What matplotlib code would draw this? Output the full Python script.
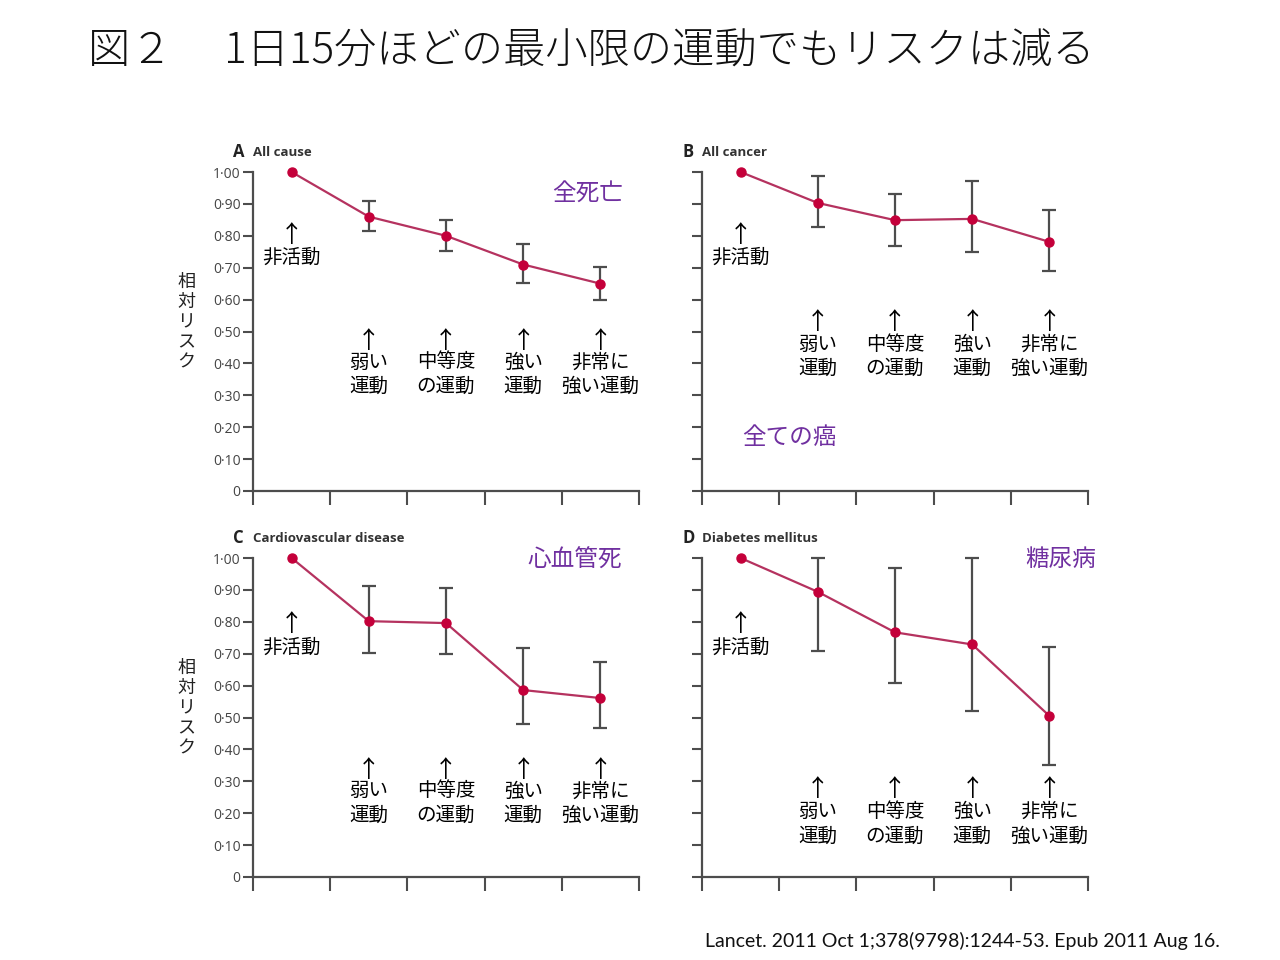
import matplotlib
matplotlib.use("Agg")
from matplotlib import pyplot as plt
import numpy as np

plt.rcParams['font.family'] = ['Noto Sans CJK JP', 'DejaVu Sans']

# data (relative risk, 95% CI)
levels = ["非活動", "弱い\n運動", "中等度\nの運動", "強い\n運動", "非常に\n強い運動"]
ytick_values = [0, 0.1, 0.2, 0.3, 0.4, 0.5, 0.6, 0.7, 0.8, 0.9, 1.0]
ytick_labels = ["0", "0·10", "0·20", "0·30", "0·40", "0·50", "0·60", "0·70", "0·80", "0·90", "1·00"]

all_cause = [1.00, 0.86, 0.80, 0.71, 0.65]
all_cause_lo = [1.00, 0.815, 0.752, 0.652, 0.599]
all_cause_hi = [1.00, 0.909, 0.850, 0.774, 0.702]

all_cancer = [1.00, 0.903, 0.849, 0.853, 0.781]
all_cancer_lo = [1.00, 0.828, 0.768, 0.749, 0.690]
all_cancer_hi = [1.00, 0.987, 0.931, 0.972, 0.881]

cvd = [1.00, 0.802, 0.796, 0.586, 0.561]
cvd_lo = [1.00, 0.702, 0.699, 0.480, 0.467]
cvd_hi = [1.00, 0.912, 0.906, 0.718, 0.674]

diabetes = [1.00, 0.894, 0.767, 0.729, 0.505]
diabetes_lo = [1.00, 0.708, 0.607, 0.521, 0.351]
diabetes_hi = [1.00, 1.00, 0.968, 1.00, 0.721]

line_color = '#b5325f'
marker_color = '#c4003a'
axis_color = '#4d4d4d'
purple = '#7030a0'

fig = plt.figure(figsize=(12.8, 9.6), dpi=100)

panels = [
    # letter, english title, jp label, values, lo, hi, rect, jp label pos,
    # (arrow y, label y) for first level, (arrow y, label y) for the rest
    ("A", "All cause", "全死亡", all_cause, all_cause_lo, all_cause_hi,
     [253/1280, 1 - 491/960, 386/1280, 319/960], (4.33, 0.934), (0.80, 0.733), (0.47, 0.3665), True),
    ("B", "All cancer", "全ての癌", all_cancer, all_cancer_lo, all_cancer_hi,
     [702/1280, 1 - 491/960, 386/1280, 319/960], (1.13, 0.169), (0.80, 0.733), (0.527, 0.422), False),
    ("C", "Cardiovascular disease", "心血管死", cvd, cvd_lo, cvd_hi,
     [253/1280, 1 - 877/960, 386/1280, 319/960], (4.17, 0.994), (0.79, 0.721), (0.335, 0.232), True),
    ("D", "Diabetes mellitus", "糖尿病", diabetes, diabetes_lo, diabetes_hi,
     [702/1280, 1 - 877/960, 386/1280, 319/960], (4.64, 0.994), (0.79, 0.721), (0.273, 0.1665), False),
]

x = np.arange(len(levels)) + 0.5

for letter, name, jp, vals, lo, hi, rect, jp_pos, first_y, rest_y, show_labels in panels:
    ax = fig.add_axes(rect)
    vals = np.array(vals)
    yerr = np.array([vals - np.array(lo), np.array(hi) - vals])
    ax.errorbar(x[1:], vals[1:], yerr=yerr[:, 1:], fmt='none', ecolor=axis_color,
                elinewidth=1.6, capsize=5, capthick=1.6, clip_on=False, zorder=2)
    ax.plot(x, vals, color=line_color, lw=1.6, zorder=3, clip_on=False)
    ax.plot(x, vals, 'o', color=marker_color, ms=6.5, zorder=4, clip_on=False)

    ax.set_xlim(0, 5)
    ax.set_ylim(0, 1.0)
    ax.set_xticks(range(6))
    ax.set_xticklabels([])
    ax.set_yticks(ytick_values)
    if show_labels:
        ax.set_yticklabels(ytick_labels, family=['Open Sans', 'DejaVu Sans'])
    else:
        ax.set_yticklabels([])
    ax.tick_params(direction='out', length=7, width=1.5, color=axis_color,
                   labelsize=10, labelcolor='#444444', pad=2)
    ax.tick_params(axis='x', length=10)
    for side in ['top', 'right']:
        ax.spines[side].set_visible(False)
    for side in ['left', 'bottom']:
        ax.spines[side].set_color(axis_color)
        ax.spines[side].set_linewidth(1.6)

    # panel heading
    fig.text(rect[0] - 20/1280, rect[1] + rect[3] + 20/960, letter, fontsize=12,
             family=['Open Sans', 'DejaVu Sans'], fontweight='bold', color='#222222', va='center')
    fig.text(rect[0], rect[1] + rect[3] + 20/960, name, fontsize=9.5,
             family=['Open Sans', 'DejaVu Sans'], fontweight='bold', color='#333333', va='center')

    ax.text(jp_pos[0], jp_pos[1], jp, color=purple, fontsize=17, ha='center', va='center')

    # activity labels with arrows
    for i, lab in enumerate(levels):
        ay, ty = first_y if i == 0 else rest_y
        ax.text(x[i], ay, "↑", fontsize=17, ha='center', va='center')
        ax.text(x[i], ty, lab, fontsize=14, ha='center', va='center', linespacing=1.2)

# y labels (stacked vertically)
for yc in [322, 708]:
    fig.text(186/1280, 1 - yc/960, "\n".join("相対リスク"), fontsize=13, ha='center',
             va='center', linespacing=1.15, color='#222222')

fig.text(88/1280, 1 - 52/960, "図２　 1日15分ほどの最小限の運動でもリスクは減る", fontsize=30.4,
         ha='left', va='center', color='#111111', fontweight='light')

fig.text(1220/1280, 1 - 941/960, "Lancet. 2011 Oct 1;378(9798):1244-53. Epub 2011 Aug 16.",
         fontsize=14, ha='right', va='center', family=['Lato', 'DejaVu Sans'], color='#111111')

fig.savefig("out.png", dpi=100)
